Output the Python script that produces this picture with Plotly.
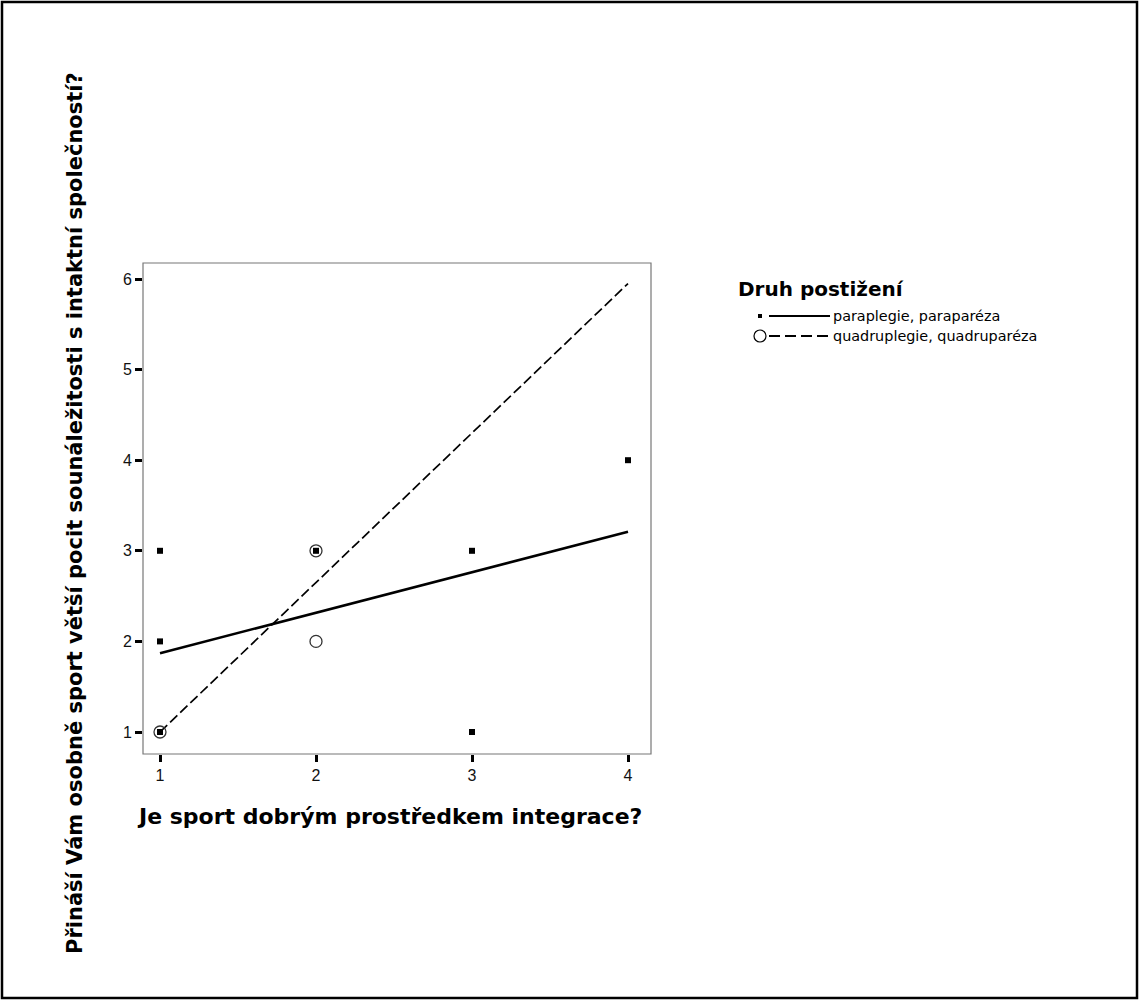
import plotly.graph_objects as go

# ---- data ----
para_x = [1, 1, 1, 2, 3, 3, 4]
para_y = [3, 2, 1, 3, 3, 1, 4]
quad_x = [1, 2, 2]
quad_y = [1, 3, 2]
para_fit_x = [1, 4]
para_fit_y = [1.87, 3.21]
quad_fit_x = [1, 4]
quad_fit_y = [1.0, 5.95]
x_ticks = [1, 2, 3, 4]
y_ticks = [1, 2, 3, 4, 5, 6]
series_names = ["paraplegie, paraparéza", "quadruplegie, quadruparéza"]
legend_title = "Druh postižení"
x_title = "Je sport dobrým prostředkem integrace?"
y_title = "Přináší Vám osobně sport větší pocit sounáležitosti s intaktní společností?"

W, H = 1140, 1001
L, R, T, B = 143, 651, 263, 754
pw, ph = R - L, B - T

def px(x):
    return (x - L) / pw

def py(y):
    return (B - y) / ph

FONT = "Arial, Liberation Sans, sans-serif"
WFONT = "DejaVu Sans, Verdana, sans-serif"

fig = go.Figure()
fig.add_trace(go.Scatter(x=quad_fit_x, y=quad_fit_y, mode="lines",
                         line=dict(color="black", width=1.7, dash="10px,4px"),
                         showlegend=False, hoverinfo="skip"))
fig.add_trace(go.Scatter(x=para_fit_x, y=para_fit_y, mode="lines",
                         line=dict(color="black", width=2.6),
                         showlegend=False, hoverinfo="skip"))
fig.add_trace(go.Scatter(x=quad_x, y=quad_y, mode="markers", name=series_names[1],
                         marker=dict(symbol="circle-open", size=12, color="#333",
                                     line=dict(width=1.3, color="#333")),
                         showlegend=False))
fig.add_trace(go.Scatter(x=para_x, y=para_y, mode="markers", name=series_names[0],
                         marker=dict(symbol="square", size=6, color="black"),
                         showlegend=False))

shapes = []
# outer frame
shapes.append(dict(type="rect", xref="paper", yref="paper",
                   x0=px(2), x1=px(1137), y0=py(998), y1=py(2),
                   line=dict(color="black", width=2.5)))
# plot box
shapes.append(dict(type="rect", xref="paper", yref="paper",
                   x0=0, x1=1, y0=0, y1=1,
                   line=dict(color="#777", width=1.2)))
# legend samples
shapes.append(dict(type="rect", xref="paper", yref="paper",
                   x0=px(758), x1=px(762), y0=py(318), y1=py(314),
                   fillcolor="black", line=dict(width=0)))
shapes.append(dict(type="line", xref="paper", yref="paper",
                   x0=px(769), x1=px(830), y0=py(316), y1=py(316),
                   line=dict(color="black", width=2)))
shapes.append(dict(type="circle", xref="paper", yref="paper",
                   x0=px(754), x1=px(766), y0=py(342), y1=py(330),
                   line=dict(color="black", width=1.2)))
shapes.append(dict(type="line", xref="paper", yref="paper",
                   x0=px(769), x1=px(830), y0=py(336), y1=py(336),
                   line=dict(color="black", width=2, dash="11px,5px")))

annotations = [
    dict(text=legend_title, xref="paper", yref="paper", x=px(736), y=py(289),
         xanchor="left", yanchor="middle", showarrow=False,
         font=dict(family=WFONT, size=20, color="black", weight="bold")),
    dict(text=series_names[0], xref="paper", yref="paper", x=px(831), y=py(316),
         xanchor="left", yanchor="middle", showarrow=False,
         font=dict(family=WFONT, size=14.4, color="black")),
    dict(text=series_names[1], xref="paper", yref="paper", x=px(831), y=py(336),
         xanchor="left", yanchor="middle", showarrow=False,
         font=dict(family=WFONT, size=14.4, color="black")),
    dict(text=x_title, xref="paper", yref="paper", x=px(389), y=py(816),
         xanchor="center", yanchor="middle", showarrow=False,
         font=dict(family=WFONT, size=22, color="black", weight="bold")),
    dict(text=y_title, xref="paper", yref="paper", x=px(75), y=py(513),
         xanchor="center", yanchor="middle", showarrow=False, textangle=-90,
         font=dict(family=WFONT, size=21, color="black", weight="bold")),
]

axis_common = dict(showgrid=False, zeroline=False, showline=False, ticks="outside",
                   ticklen=7, tickwidth=2.5, tickcolor="black",
                   tickfont=dict(family=FONT, size=16, color="#111"))

fig.update_layout(
    width=W, height=H,
    margin=dict(l=L, r=W - R, t=T, b=H - B, pad=0),
    paper_bgcolor="white", plot_bgcolor="white",
    xaxis=dict(range=[1 - 17 / 156, 4 + 23 / 156], tickvals=x_ticks, **axis_common),
    yaxis=dict(range=[1 - 22 / 90.6, 6 + 16 / 90.6], tickvals=y_ticks, **axis_common),
    shapes=shapes, annotations=annotations, showlegend=False,
)

fig.write_html("out.html", config={"displayModeBar": False},
               post_script="document.body.style.margin='0px';document.body.style.overflow='hidden';")
